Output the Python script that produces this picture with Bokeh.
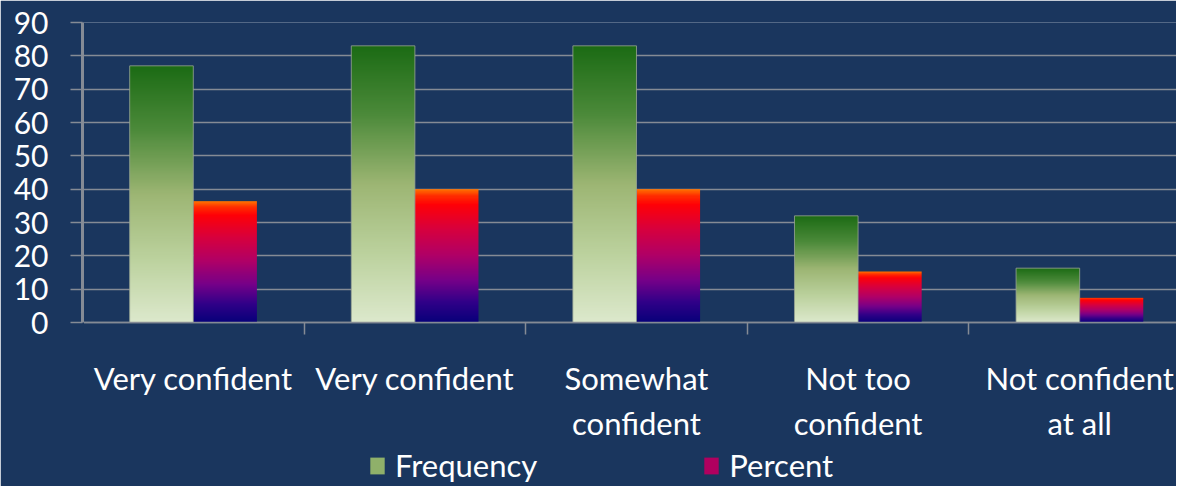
import numpy as np
from bokeh.plotting import figure
from bokeh.models import Range1d, FixedTicker, Legend, LegendItem
from bokeh.embed import file_html
from bokeh.resources import INLINE

# ---- data ----
categories = ["Very confident", "Very confident", "Somewhat\nconfident",
              "Not too\nconfident", "Not confident\nat all"]
frequency = [77, 83, 83, 32, 16.3]
percent = [36.4, 40, 40, 15.3, 7.4]
series = ["Frequency", "Percent"]
y_ticks = [0, 10, 20, 30, 40, 50, 60, 70, 80, 90]

# ---- style ----
BG = "#1a365e"
GRID = "#858b95"
FONT = "Lato"
green_stops = [(0.0, "#1b6b14"), (0.25, "#4c8a3a"), (0.5, "#9db674"),
               (0.75, "#bcd29e"), (1.0, "#dde9cd")]
pct_stops = [(0.0, "#ff7a00"), (0.05, "#ff3000"), (0.12, "#ff0008"),
             (0.3, "#d8003e"), (0.5, "#b00068"), (0.68, "#780088"),
             (0.85, "#300088"), (1.0, "#08007a")]


def gradient_image(stops, n=240):
    ts = 1 - (np.arange(n) + 0.5) / n  # row 0 is bottom -> t (from top) ~ 1
    pos = [s[0] for s in stops]
    cols = np.array([[int(c[1:3], 16), int(c[3:5], 16), int(c[5:7], 16)]
                     for _, c in stops], float)
    img = np.empty((n, 1), dtype=np.uint32)
    view = img.view(dtype=np.uint8).reshape((n, 1, 4))
    for k in range(3):
        view[:, 0, k] = np.interp(ts, pos, cols[:, k]).astype(np.uint8)
    view[:, 0, 3] = 255
    return img


n = len(categories)
centers = [2 * i + 1 for i in range(n)]
bw = 0.574

# frame runs down to the bottom edge; value 0 sits 164 px above it (300 px per 90 units)
p = figure(width=1176, height=486, x_range=Range1d(0, 9.874), y_range=Range1d(-49.2, 90),
           output_backend="svg", toolbar_location=None,
           background_fill_color=BG, border_fill_color=BG,
           min_border_left=82, min_border_top=22, min_border_right=0,
           min_border_bottom=0)
p.outline_line_color = None

g_img = gradient_image(green_stops)
r_img = gradient_image(pct_stops)

f_left = [c - bw for c in centers]
p_left = list(centers)
p.image_rgba(image=[g_img] * n, x=f_left, y=[0] * n, dw=[bw] * n, dh=frequency)
p.image_rgba(image=[r_img] * n, x=p_left, y=[0] * n, dw=[bw] * n, dh=percent)
p.quad(left=f_left, right=[l + bw for l in f_left], bottom=[0] * n, top=frequency,
       fill_alpha=0, line_color="#9aa595", line_width=1, line_alpha=0.8)

# value-axis line, only over the tick span (drawn above the axis rule)
vline = p.segment(x0=[0], y0=[y_ticks[0]], x1=[0], y1=[y_ticks[-1]],
                  line_color=GRID, line_width=3)
vline.level = "overlay"

# legend proxies (zero-size, only provide swatch colours)
rf = p.quad(left=[0], right=[0], bottom=[0], top=[0], fill_color="#8fb06a", line_color=None)
rp = p.quad(left=[0], right=[0], bottom=[0], top=[0], fill_color="#b0005f", line_color=None)
legend = Legend(items=[LegendItem(label=series[0], renderers=[rf]),
                       LegendItem(label=series[1], renderers=[rp])],
                orientation="horizontal", location=(286, 2),
                label_text_font=FONT, label_text_font_size="31px",
                label_text_color="white", glyph_width=18, glyph_height=21,
                label_standoff=9, spacing=165, padding=0, margin=0,
                background_fill_alpha=0, border_line_alpha=0)
p.add_layout(legend, "center")

# grid
p.xgrid.visible = False
p.ygrid.ticker = FixedTicker(ticks=y_ticks)
p.ygrid.grid_line_color = GRID
p.ygrid.grid_line_width = 1.5

# y axis: its rule is painted in the background colour to hide the frame seam
ya = p.yaxis[0]
ya.ticker = FixedTicker(ticks=y_ticks)
ya.axis_line_color = BG
ya.axis_line_width = 3
ya.major_tick_line_color = GRID
ya.major_tick_line_width = 1.5
ya.major_tick_out = 12
ya.major_tick_in = 0
ya.minor_tick_line_color = None
ya.major_label_text_font = FONT
ya.major_label_text_font_size = "30px"
ya.major_label_text_color = "white"
ya.major_label_standoff = 22

# x axis (drawn at value 0)
xa = p.xaxis[0]
xa.fixed_location = 0
xa.ticker = FixedTicker(ticks=centers, minor_ticks=list(range(0, 2 * n + 1, 2)))
xa.major_label_overrides = {c: lab for c, lab in zip(centers, categories)}
xa.axis_line_color = GRID
xa.axis_line_width = 1.5
xa.major_tick_line_color = None
xa.major_tick_out = 0
xa.major_tick_in = 0
xa.minor_tick_line_color = GRID
xa.minor_tick_line_width = 1.5
xa.minor_tick_out = 12
xa.minor_tick_in = 0
xa.major_label_text_font = FONT
xa.major_label_text_font_size = "31px"
xa.major_label_text_color = "white"
xa.major_label_standoff = 24

open("out.html", "w").write(file_html(p, INLINE))
